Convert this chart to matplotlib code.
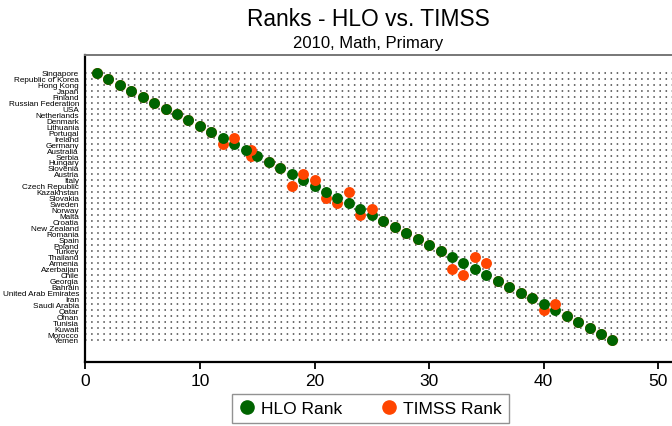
"""Ranks - HLO vs. TIMSS (2010, Math, Primary): dot plot of both rankings per country."""

import matplotlib.pyplot as plt
from matplotlib.lines import Line2D

countries = [
    "Singapore", "Republic of Korea", "Hong Kong", "Japan", "Finland",
    "Russian Federation", "USA", "Netherlands", "Denmark", "Lithuania",
    "Portugal", "Ireland", "Germany", "Australia", "Serbia",
    "Hungary", "Slovenia", "Austria", "Italy", "Czech Republic",
    "Kazakhstan", "Slovakia", "Sweden", "Norway", "Malta",
    "Croatia", "New Zealand", "Romania", "Spain", "Poland",
    "Turkey", "Thailand", "Armenia", "Azerbaijan", "Chile",
    "Georgia", "Bahrain", "United Arab Emirates", "Iran", "Saudi Arabia",
    "Qatar", "Oman", "Tunisia", "Kuwait", "Morocco", "Yemen",
]

hlo_rank = list(range(1, 47))

timss_rank = [
    1, 2, 3, 4, 5, 6, 7, 8, 9, 10,
    11, 13, 12, 14.5, 14.5, 16, 17, 19, 20, 18,
    23, 21, 22, 25, 24, 26, 27, 28, 29, 30,
    31, 34, 35, 32, 33, 36, 37, 38, 39, 41,
    40, 42, 43, 44, 45, 46,
]

GREEN = "#006400"
ORANGE = "#ff4500"


def main():
    plt.rcParams["font.family"] = ["Liberation Sans", "DejaVu Sans"]
    fig = plt.figure(figsize=(6.72, 4.27), dpi=100)
    ax = fig.add_axes([0.127, 0.150, 0.873, 0.719])

    rows = list(range(1, len(countries) + 1))

    # dotted guide line for every country row
    for r in rows:
        ax.axhline(r, color="#444444", lw=1.1, ls=(0, (1, 3.0)), zorder=1)

    # upper rows are drawn last so they sit on top of the row below;
    # HLO goes over TIMSS when both ranks agree
    n = len(rows)
    for i in reversed(range(n)):
        z = 10 + (n - i) * 2
        ax.scatter(timss_rank[i], rows[i], s=62, color=ORANGE, lw=0, zorder=z)
        ax.scatter(hlo_rank[i], rows[i], s=62, color=GREEN, lw=0, zorder=z + 1)

    ax.set_xlim(0, 51.2)
    ax.set_ylim(49.7, -2.03)
    ax.set_xticks(range(0, 51, 10))
    ax.set_yticks(rows)
    ax.set_yticklabels(countries, fontsize=5.9)
    ax.tick_params(axis="y", length=0, pad=4.5)
    ax.tick_params(axis="x", length=5, width=1.3, labelsize=12.5, pad=3)

    ax.spines["left"].set_linewidth(1.6)
    ax.spines["bottom"].set_linewidth(1.6)
    ax.spines["top"].set_color("#777777")
    ax.spines["top"].set_linewidth(1.4)
    ax.spines["right"].set_visible(False)

    fig.text(0.548, 0.955, "Ranks - HLO vs. TIMSS", ha="center", va="center",
             fontsize=16.4)
    fig.text(0.548, 0.898, "2010, Math, Primary", ha="center", va="center",
             fontsize=12)

    handles = [
        Line2D([], [], marker="o", ls="", color=GREEN, markersize=9.5),
        Line2D([], [], marker="o", ls="", color=ORANGE, markersize=9.5),
    ]
    leg = fig.legend(handles, ["HLO Rank", "TIMSS Rank"], loc="center",
                     bbox_to_anchor=(0.551, 0.04), ncol=2, frameon=True,
                     fancybox=False, edgecolor="#777777", handlelength=1.0,
                     handletextpad=0.3, columnspacing=2.2, fontsize=12.5)
    leg.get_frame().set_linewidth(1.0)

    fig.savefig("out.png", dpi=100)


if __name__ == "__main__":
    main()
